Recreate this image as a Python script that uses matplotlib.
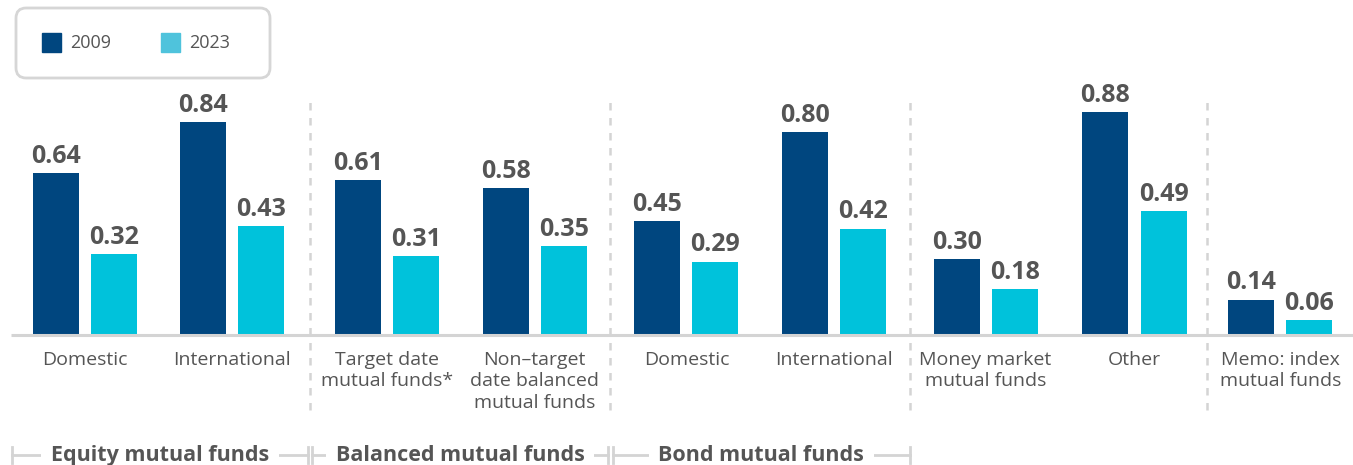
import numpy as np
import matplotlib.pyplot as plt
from matplotlib.patches import FancyBboxPatch, Rectangle

plt.rcParams['font.family'] = ['Open Sans', 'DejaVu Sans']

categories = ["Domestic", "International", "Target date\nmutual funds*",
              "Non\u2013target\ndate balanced\nmutual funds", "Domestic",
              "International", "Money market\nmutual funds", "Other",
              "Memo: index\nmutual funds"]
vals_2009 = [0.64, 0.84, 0.61, 0.58, 0.45, 0.80, 0.30, 0.88, 0.14]
vals_2023 = [0.32, 0.43, 0.31, 0.35, 0.29, 0.42, 0.18, 0.49, 0.06]
groups = ["Equity mutual funds", "Balanced mutual funds", "Bond mutual funds"]

dark = "#00467f"
light = "#00c2db"
txt = "#555555"
grid = "#d4d4d4"

# slot positions, a little extra room where the dashed dividers sit
xpos = np.array([0, 1, 2.05, 3.05, 4.08, 5.08, 6.11, 7.12, 8.11])
dividers = [(xpos[1] + xpos[2]) / 2, (xpos[3] + xpos[4]) / 2,
            (xpos[5] + xpos[6]) / 2, (xpos[7] + xpos[8]) / 2]
w = 0.312
off = 0.197

W, H = 1353, 465
fig = plt.figure(figsize=(W / 100, H / 100), dpi=100)
ax = fig.add_axes([0, 0, 1, 1])
ppu_x, ppu_y = 147.4, 253.4
ax.set_xlim(-85 / ppu_x, (W - 85) / ppu_x)
ax.set_ylim(-(H - 335) / ppu_y, 335 / ppu_y)
ax.axis("off")

b1 = ax.bar(xpos - off, vals_2009, w, color=dark, zorder=3)
b2 = ax.bar(xpos + off, vals_2023, w, color=light, zorder=3)
for bars, vals in ((b1, vals_2009), (b2, vals_2023)):
    for b, v in zip(bars, vals):
        ax.text(b.get_x() + b.get_width() / 2, v + 0.04, f"{v:.2f}",
                ha="center", va="baseline", fontsize=18, fontweight="bold",
                color=txt)

# baseline
ax.plot([(11 - 85) / ppu_x, (W - 85) / ppu_x], [0, 0], color=grid, lw=2.2,
        zorder=4, solid_capstyle="butt")

for d in dividers:
    ax.plot([d, d], [-0.296, 0.94], color=grid, lw=1.8, ls=(0, (3, 3)), zorder=1)

for x, lab in zip(xpos, categories):
    ax.text(x, -0.062, lab, ha="center", va="top", fontsize=14, color=txt,
            linespacing=1.27)

# group brackets along the bottom
ybr = -(455 - 335) / ppu_y
spans = [((12 - 85) / ppu_x, dividers[0] - 0.015),
         (dividers[0] + 0.015, dividers[1] - 0.015),
         (dividers[1] + 0.015, dividers[2])]
for (a, b), g in zip(spans, groups):
    ax.plot([a, b], [ybr, ybr], color=grid, lw=2, zorder=1)
    for e in (a, b):
        ax.plot([e, e], [ybr - 0.032, ybr + 0.032], color=grid, lw=2, zorder=1)
    ax.text((a + b) / 2, ybr, g, ha="center", va="center", fontsize=15.5,
            fontweight="bold", color=txt, zorder=2,
            bbox=dict(facecolor="white", edgecolor="none", pad=7))

# legend box
box = FancyBboxPatch((16 / W, 1 - 78 / H), 254 / W, 70 / H,
                     boxstyle="round,pad=0,rounding_size=0.0075",
                     transform=fig.transFigure, facecolor="white",
                     edgecolor="#d6d6d6", lw=2, mutation_aspect=W / H)
fig.add_artist(box)
for x0, c, lab in ((42, dark, "2009"), (161, "#4fc3dc", "2023")):
    fig.add_artist(Rectangle((x0 / W, 1 - 52 / H), 19 / W, 19 / H,
                             transform=fig.transFigure, color=c))
    fig.text((x0 + 28) / W, 1 - 43 / H, lab, ha="left", va="center",
             fontsize=13, color=txt)

fig.savefig("out.png", dpi=100)
